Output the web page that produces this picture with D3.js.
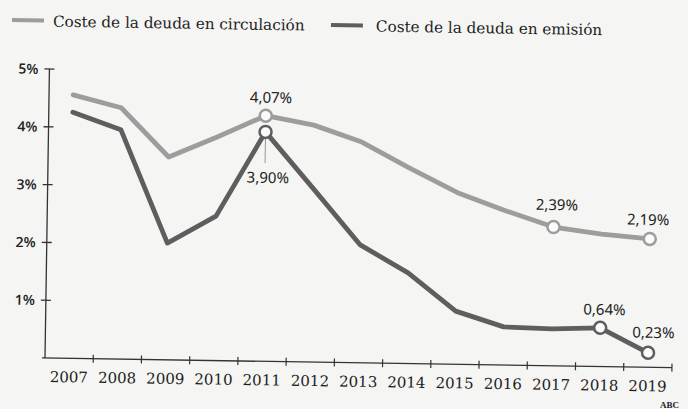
<!DOCTYPE html>
<html>
<head>
<meta charset="utf-8">
<script src="https://cdn.jsdelivr.net/npm/d3@7"></script>
<style>
  body { margin: 0; background: #f5f5f3; }
  svg { display: block; }
</style>
</head>
<body>
<svg id="chart" width="688" height="409"></svg>
<script>
// data
var years = ["2007", "2008", "2009", "2010", "2011", "2012", "2013", "2014", "2015", "2016", "2017", "2018", "2019"];
var circulacion = [4.56, 4.35, 3.51, 3.87, 4.25, 4.10, 3.82, 3.38, 2.97, 2.67, 2.40, 2.29, 2.22];
var emision = [4.26, 3.97, 2.02, 2.50, 3.97, 3.01, 2.04, 1.57, 0.92, 0.66, 0.64, 0.67, 0.25];
var yTicks = [1, 2, 3, 4, 5];
var yTickLabels = ["1%", "2%", "3%", "4%", "5%"];
var seriesNames = ["Coste de la deuda en circulación", "Coste de la deuda en emisión"];

// highlighted points: series index, year, label text, label offset
var marked = [
  { s: 0, year: "2011", text: "4,07%", dx: 5, dy: -13 },
  { s: 1, year: "2011", text: "3,90%", dx: 3, dy: 51 },
  { s: 0, year: "2017", text: "2,39%", dx: 3, dy: -17 },
  { s: 0, year: "2019", text: "2,19%", dx: -2, dy: -14 },
  { s: 1, year: "2018", text: "0,64%", dx: 4, dy: -13 },
  { s: 1, year: "2019", text: "0,23%", dx: 5, dy: -15 }
];

var colors = ["#9d9d9d", "#5e5e5e"];
var tilt = 0.88; // the scan is slightly rotated

var width = 627, height = 289;
var svg = d3.select("#chart");

// legend
var legend = svg.append("g").attr("transform", "translate(12,20) rotate(" + tilt + ")");
var legendX = [0, 319];
var legendGap = [41, 45];
seriesNames.forEach(function (name, i) {
  var g = legend.append("g").attr("transform", "translate(" + legendX[i] + ",0)");
  g.append("line")
    .attr("x1", 0).attr("x2", 32).attr("y1", 0).attr("y2", 0)
    .attr("stroke", colors[i]).attr("stroke-width", 4);
  g.append("text")
    .attr("x", legendGap[i]).attr("y", 6)
    .attr("font-family", "DejaVu Serif")
    .attr("font-size", 15.2)
    .attr("fill", "#1e1e1e")
    .text(name);
});

var chart = svg.append("g")
  .attr("transform", "translate(45,358) rotate(" + tilt + ") translate(0," + (-height) + ")");

var x = d3.scaleBand().domain(years).range([0, width]);
var y = d3.scaleLinear().domain([0, 5]).range([height, 0]);
var cx = function (yr) { return x(yr) + x.bandwidth() / 2; };

// y axis
chart.append("line")
  .attr("x1", 0).attr("x2", 0).attr("y1", y(0)).attr("y2", y(5))
  .attr("stroke", "#333").attr("stroke-width", 1.3);
chart.selectAll(".ytick").data(yTicks).enter().append("line")
  .attr("x1", -5).attr("x2", 5)
  .attr("y1", function (d) { return y(d); }).attr("y2", function (d) { return y(d); })
  .attr("stroke", "#333").attr("stroke-width", 1.3);
chart.selectAll(".ylab").data(yTicks).enter().append("text")
  .attr("x", -11).attr("y", function (d) { return y(d) + 5; })
  .attr("text-anchor", "end")
  .attr("font-family", "Open Sans")
  .attr("font-weight", 600)
  .attr("font-size", 14)
  .attr("fill", "#222")
  .text(function (d, i) { return yTickLabels[i]; });

// x axis
chart.append("line")
  .attr("x1", -3).attr("x2", width).attr("y1", y(0)).attr("y2", y(0))
  .attr("stroke", "#333").attr("stroke-width", 1.3);
var bounds = years.slice(1).map(function (d) { return x(d); }).concat([width]);
chart.selectAll(".xtick").data(bounds).enter().append("line")
  .attr("x1", function (d) { return d; }).attr("x2", function (d) { return d; })
  .attr("y1", y(0) - 4).attr("y2", y(0) + 4)
  .attr("stroke", "#333").attr("stroke-width", 1.2);
chart.selectAll(".xlab").data(years).enter().append("text")
  .attr("x", function (d) { return cx(d); })
  .attr("y", y(0) + 24)
  .attr("text-anchor", "middle")
  .attr("font-family", "DejaVu Serif")
  .attr("font-size", 15)
  .attr("fill", "#1e1e1e")
  .text(function (d) { return d; });

// lines
var line = d3.line()
  .x(function (d, i) { return cx(years[i]); })
  .y(function (d) { return y(d); });
[circulacion, emision].forEach(function (vals, i) {
  chart.append("path")
    .datum(vals)
    .attr("fill", "none")
    .attr("stroke", colors[i])
    .attr("stroke-width", 4.8)
    .attr("stroke-linejoin", "round")
    .attr("stroke-linecap", "round")
    .attr("d", line);
});

// leader under the 2011 emission point
var e2011 = emision[years.indexOf("2011")];
chart.append("line")
  .attr("x1", cx("2011")).attr("x2", cx("2011"))
  .attr("y1", y(e2011) + 7).attr("y2", y(e2011) + 31)
  .attr("stroke", "#999").attr("stroke-width", 1);

// circles and labels
var series = [circulacion, emision];
marked.forEach(function (m) {
  var v = series[m.s][years.indexOf(m.year)];
  chart.append("circle")
    .attr("cx", cx(m.year)).attr("cy", y(v)).attr("r", 6)
    .attr("fill", "#fbfbfb")
    .attr("stroke", colors[m.s]).attr("stroke-width", 2.5);
  chart.append("text")
    .attr("x", cx(m.year) + m.dx).attr("y", y(v) + m.dy)
    .attr("text-anchor", "middle")
    .attr("font-family", "Noto Sans")
    .attr("font-size", 15)
    .attr("fill", "#222")
    .text(m.text);
});

// source
svg.append("text")
  .attr("x", 679).attr("y", 408)
  .attr("text-anchor", "end")
  .attr("font-family", "Liberation Serif")
  .attr("font-weight", "bold")
  .attr("font-size", 9)
  .attr("fill", "#222")
  .text("ABC");
</script>
</body>
</html>
